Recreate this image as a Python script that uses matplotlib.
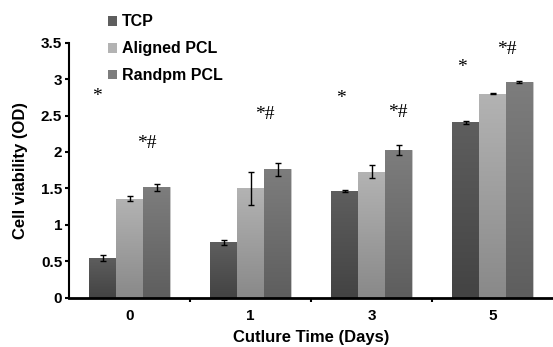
import numpy as np
import matplotlib
matplotlib.use('Agg')
import matplotlib.pyplot as plt
from matplotlib.patches import Patch
from matplotlib.ticker import FormatStrFormatter

# data
days = ['0', '1', '3', '5']
series = ['TCP', 'Aligned PCL', 'Randpm PCL']
tcp = [0.55, 0.76, 1.47, 2.41]
tcp_err = [0.04, 0.03, 0.015, 0.02]
aligned = [1.36, 1.50, 1.73, 2.80]
aligned_err = [0.03, 0.23, 0.09, 0.01]
randpm = [1.515, 1.76, 2.03, 2.96]
randpm_err = [0.05, 0.09, 0.07, 0.01]

# significance marks (x in group units, y in OD)
mark_text = ['*', '*#', '*#', '*', '*#', '*', '*#']
mark_x = [-0.27, 0.145, 1.12, 1.75, 2.22, 2.75, 3.12]
mark_y = [2.76, 2.12, 2.51, 2.74, 2.54, 3.16, 3.41]

# gradient colours (top, bottom) for each series
grad = [('#5e5e5e', '#434343'), ('#b3b3b3', '#898989'), ('#7d7d7d', '#5e5e5e')]

plt.rcParams['font.family'] = ['Liberation Sans', 'DejaVu Sans']

fig = plt.figure(figsize=(5.53, 3.47), dpi=100)
ax = fig.add_axes([0.125, 0.142, 0.875, 0.735])

x = np.arange(len(days))
w = 0.223
values = [tcp, aligned, randpm]
errs = [tcp_err, aligned_err, randpm_err]


def hex2rgb(h):
    return np.array([int(h[i:i + 2], 16) / 255 for i in (1, 3, 5)])


for i, (vals, er) in enumerate(zip(values, errs)):
    pos = x + (i - 1) * w
    bars = ax.bar(pos, vals, width=w, color=grad[i][0], edgecolor='#c8c8c8',
                  linewidth=0.6, zorder=2)
    top, bot = hex2rgb(grad[i][0]), hex2rgb(grad[i][1])
    t = np.linspace(0, 1, 64)[:, None]
    img = (top * (1 - t) + bot * t).reshape(64, 1, 3)
    for b in bars:
        im = ax.imshow(img, extent=[b.get_x(), b.get_x() + b.get_width(), 0, b.get_height()],
                       aspect='auto', zorder=2.5, interpolation='bilinear')
        im.set_clip_path(b)
    ax.errorbar(pos, vals, yerr=er, fmt='none', ecolor='black', elinewidth=1,
                capsize=2, capthick=1, zorder=4)

for s, mx, my in zip(mark_text, mark_x, mark_y):
    ax.text(mx, my, s, ha='center', va='center', fontsize=14,
            family='Liberation Serif', zorder=5)

ax.set_xlim(-0.5, 3.5)
ax.set_ylim(0, 3.5)
ax.set_yticks(np.arange(0, 3.51, 0.5))
ax.yaxis.set_major_formatter(FormatStrFormatter('%g'))
ax.set_xticks(x)
ax.set_xticklabels(days)
ax.set_xticks([0.5, 1.5, 2.5], minor=True)
ax.tick_params(axis='x', which='major', length=0, pad=8)
ax.tick_params(axis='x', which='minor', length=3, width=1.5, direction='out')
ax.tick_params(axis='y', length=3, width=1.5, direction='out', pad=2)
for lab in ax.get_xticklabels() + ax.get_yticklabels():
    lab.set_fontweight('bold')
    lab.set_fontsize(11)

for sp in ['top', 'right']:
    ax.spines[sp].set_visible(False)
ax.spines['left'].set_linewidth(1.5)
ax.spines['bottom'].set_linewidth(2)

ax.set_xlabel('Cutlure Time (Days)', fontsize=12, fontweight='bold', labelpad=5)
ax.set_ylabel('Cell viability (OD)', fontsize=12, fontweight='bold', labelpad=9)

handles = [Patch(facecolor=grad[i][0], edgecolor='none') for i in range(3)]
leg = fig.legend(handles, series, loc='upper left', bbox_to_anchor=(0.17, 1.0),
                 frameon=False, handlelength=0.55, handleheight=0.55,
                 handletextpad=0.3, labelspacing=0.75, fontsize=11.5)
for t in leg.get_texts():
    t.set_fontweight('bold')

fig.savefig('out.png', dpi=100)
